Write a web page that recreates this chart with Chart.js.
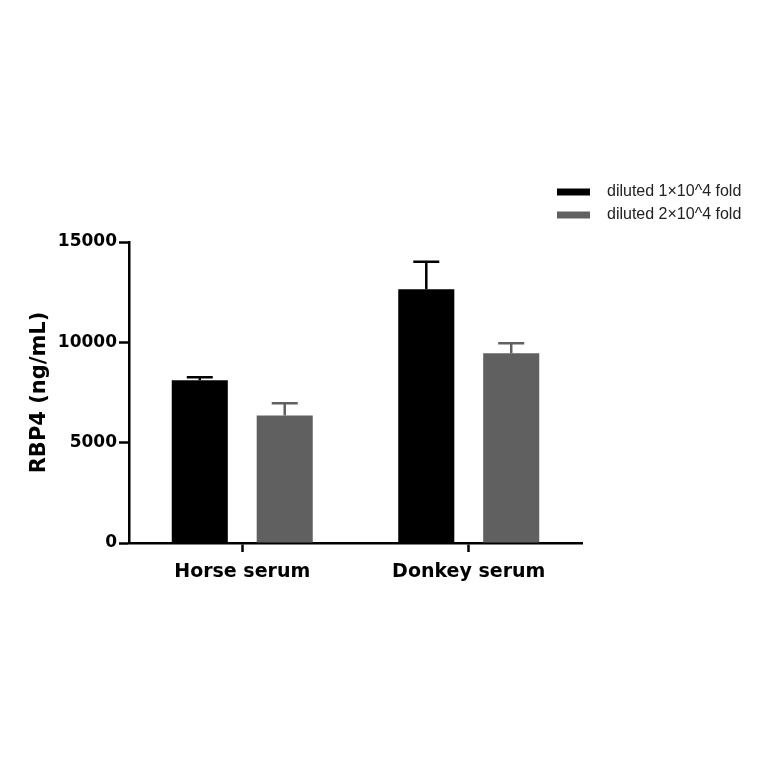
<!DOCTYPE html>
<html>
<head>
<meta charset="utf-8">
<script src="https://cdn.jsdelivr.net/npm/chart.js@4"></script>
<style>
  html, body { margin: 0; padding: 0; background: #fff; }
  #wrap { width: 764px; height: 764px; }
</style>
</head>
<body>
<div id="wrap"><canvas id="chart"></canvas></div>
<script>
const categories = ["Horse serum", "Donkey serum"];
const seriesNames = ["diluted 1\u00d710^4 fold", "diluted 2\u00d710^4 fold"];
const means1 = [8115, 12650];
const errors1 = [150, 1370];
const means2 = [6350, 9450];
const errors2 = [620, 500];
const yTicks = [0, 5000, 10000, 15000];

const colors = ["#000000", "#606060"];
const boldFont = "'DejaVu Sans', Lato, sans-serif";

// up-only error bars, drawn from the bar elements and the y scale
const errorBars = {
    id: "errorBars",
    afterDatasetsDraw(chart) {
        const ctx = chart.ctx;
        const y = chart.scales.y;
        chart.data.datasets.forEach((ds, i) => {
            const meta = chart.getDatasetMeta(i);
            meta.data.forEach((bar, j) => {
                const top = y.getPixelForValue(ds.data[j] + ds.errors[j]);
                const base = y.getPixelForValue(ds.data[j]);
                ctx.save();
                ctx.strokeStyle = ds.backgroundColor;
                ctx.lineWidth = 2.5;
                ctx.beginPath();
                ctx.moveTo(bar.x, base);
                ctx.lineTo(bar.x, top);
                ctx.moveTo(bar.x - 13, top);
                ctx.lineTo(bar.x + 13, top);
                ctx.stroke();
                ctx.restore();
            });
        });
    }
};

// legend in the top right corner, outside the plot
const cornerLegend = {
    id: "cornerLegend",
    afterDraw(chart) {
        const ctx = chart.ctx;
        ctx.save();
        ctx.font = "16px 'Liberation Sans', Arial, sans-serif";
        ctx.textBaseline = "middle";
        chart.data.datasets.forEach((ds, i) => {
            const cy = 192 + i * 23;
            ctx.fillStyle = ds.backgroundColor;
            ctx.fillRect(557, cy - 3.5, 33, 7);
            ctx.fillStyle = "#222";
            ctx.fillText(ds.label, 607, cy);
        });
        ctx.restore();
    }
};

const ctx = document.getElementById("chart").getContext("2d");
new Chart(ctx, {
    type: "bar",
    data: {
        labels: categories,
        datasets: [
            { label: seriesNames[0], data: means1, errors: errors1, backgroundColor: colors[0] },
            { label: seriesNames[1], data: means2, errors: errors2, backgroundColor: colors[1] }
        ]
    },
    options: {
        responsive: true,
        maintainAspectRatio: false,
        animation: false,
        events: [],
        layout: { padding: { top: 242, right: 182, left: 0, bottom: 0 } },
        datasets: { bar: { barPercentage: 0.66, categoryPercentage: 0.75 } },
        plugins: { legend: { display: false }, tooltip: { enabled: false } },
        scales: {
            x: {
                grid: { display: true, offset: false, drawOnChartArea: false, tickLength: 9, tickWidth: 2.5, tickColor: "#000" },
                border: { color: "#000", width: 2.5 },
                ticks: { color: "#000", padding: 9, font: { family: boldFont, size: 19, weight: "bold" } },
                afterFit(scale) { scale.height = 221; }
            },
            y: {
                min: 0,
                max: 15000,
                afterBuildTicks(scale) { scale.ticks = yTicks.map(v => ({ value: v })); },
                grid: { display: true, drawOnChartArea: false, tickLength: 10, tickWidth: 2.5, tickColor: "#000" },
                border: { color: "#000", width: 2.5 },
                ticks: { color: "#000", padding: 2, font: { family: boldFont, size: 17, weight: "bold" }, callback: v => String(v) },
                title: { display: true, text: "RBP4 (ng/mL)", color: "#000", padding: { top: 27, bottom: 0 }, font: { family: boldFont, size: 21, weight: "bold" } },
                afterFit(scale) { scale.width = 129; }
            }
        }
    },
    plugins: [errorBars, cornerLegend]
});
</script>
</body>
</html>
